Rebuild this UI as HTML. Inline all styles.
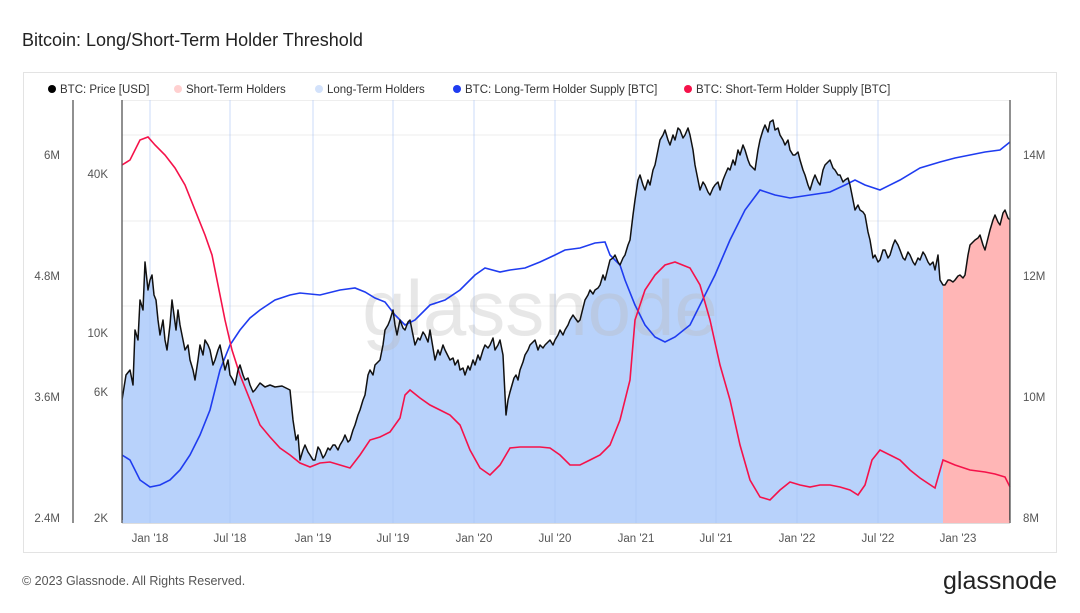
<!DOCTYPE html>
<html><head><meta charset="utf-8"><style>
body{margin:0;background:#fff;font-family:"Liberation Sans",sans-serif;}
</style></head><body>
<svg width="1080" height="608" xmlns="http://www.w3.org/2000/svg" font-family="Liberation Sans, sans-serif">
<rect width="1080" height="608" fill="#fff"/>
<text x="22" y="46" font-size="18" fill="#222">Bitcoin: Long/Short-Term Holder Threshold</text>
<rect x="23.5" y="72.5" width="1033" height="480" fill="#fff" stroke="#e3e3e3"/>
<g font-size="11.5" fill="#333">
<circle cx="52" cy="89" r="4" fill="#000"/><text x="60" y="93">BTC: Price [USD]</text>
<circle cx="178" cy="89" r="4" fill="#ffd0d0"/><text x="186" y="93">Short-Term Holders</text>
<circle cx="319" cy="89" r="4" fill="#d3e2fb"/><text x="327" y="93">Long-Term Holders</text>
<circle cx="457" cy="89" r="4" fill="#1f3cf0"/><text x="465" y="93">BTC: Long-Term Holder Supply [BTC]</text>
<circle cx="688" cy="89" r="4" fill="#f5124a"/><text x="696" y="93">BTC: Short-Term Holder Supply [BTC]</text>
</g>
<line x1="122" y1="100.5" x2="1010" y2="100.5" stroke="#eee"/>
<g stroke="#ececec"><line x1="122" y1="135" x2="1010" y2="135"/><line x1="122" y1="221" x2="1010" y2="221"/><line x1="122" y1="306" x2="1010" y2="306"/><line x1="122" y1="392" x2="1010" y2="392"/><line x1="122" y1="477" x2="1010" y2="477"/></g>
<defs>
<clipPath id="cb"><rect x="122" y="90" width="821" height="433"/></clipPath>
<clipPath id="cr"><rect x="943" y="90" width="67" height="433"/></clipPath>
<clipPath id="cl"><rect x="122" y="90" width="888" height="430"/></clipPath>
<polygon id="pp" points="122,523 122,400 126,375 130,370 133,385 135,330 138,340 140,300 143,310 145,262 148,290 150,280 152,275 154,295 156,300 158,320 160,335 163,320 165,340 167,350 170,325 172,300 174,315 176,330 178,310 180,325 183,340 185,350 188,345 190,360 193,370 195,380 198,360 200,345 203,355 205,340 208,345 210,350 213,365 215,360 218,350 220,345 223,360 225,370 228,360 230,375 233,380 235,385 238,370 240,365 243,375 245,380 248,378 250,385 253,392 255,390 260,383 265,387 270,385 275,387 282,386 290,390 293,420 296,440 298,435 300,460 303,450 305,445 308,452 310,455 313,460 315,460 318,447 320,450 323,458 325,455 328,448 330,450 333,445 335,445 338,450 340,445 343,440 345,435 348,442 350,440 353,430 355,425 358,415 360,410 363,400 365,395 368,375 370,370 373,375 375,365 378,362 380,360 383,345 385,330 388,325 390,320 393,310 395,325 397,335 400,320 403,328 405,330 408,322 410,320 413,335 415,345 418,338 420,340 423,332 425,335 428,342 430,330 433,348 435,360 438,350 440,355 443,345 445,350 448,356 450,360 453,358 455,365 458,360 460,370 463,368 465,375 468,366 470,370 473,360 475,365 478,355 480,360 483,350 485,345 488,348 490,345 493,338 495,350 498,345 500,340 503,355 506,415 508,400 510,392 512,385 514,378 516,375 518,380 520,370 523,362 525,355 528,350 530,345 533,342 535,340 538,350 540,345 543,348 545,345 548,342 550,340 553,345 555,340 558,335 560,330 563,335 565,330 568,325 570,320 573,315 575,318 578,322 580,320 583,308 585,300 588,295 590,290 593,294 595,290 598,288 600,285 603,275 605,280 608,268 610,260 613,258 615,255 618,262 620,265 623,258 625,255 628,245 630,240 633,215 635,200 638,180 640,175 643,185 645,190 648,180 650,185 653,170 655,165 658,150 660,140 663,135 665,130 668,140 670,145 673,135 675,140 678,128 680,130 683,138 685,135 688,128 690,135 693,150 695,165 698,180 700,190 703,182 705,185 708,192 710,195 713,188 715,185 718,182 720,190 723,180 725,175 728,168 730,170 733,160 735,165 738,150 740,155 743,145 745,150 748,160 750,165 753,168 755,170 758,150 760,140 763,130 765,125 768,132 770,122 773,120 775,130 778,128 780,135 783,140 785,145 788,140 790,150 793,155 795,155 798,152 800,160 803,170 805,175 808,185 810,190 813,180 815,175 818,182 820,185 823,170 825,165 828,162 830,160 833,168 835,170 838,175 840,175 843,182 845,180 848,178 850,185 853,200 855,210 858,205 860,210 863,212 865,215 868,232 870,240 873,258 875,255 878,262 880,260 883,250 885,250 888,258 890,255 893,245 895,240 898,245 900,250 903,258 905,260 908,252 910,255 913,262 915,265 918,258 920,260 923,252 925,255 928,262 930,265 933,262 935,270 938,255 940,280 943,285 945,285 948,280 950,280 953,282 955,280 958,276 960,275 963,278 965,275 968,255 970,245 973,242 975,240 978,238 980,235 983,245 985,250 988,238 990,230 993,220 995,215 998,222 1000,225 1003,213 1005,210 1008,218 1010,220 1010,523"/>
</defs>
<use href="#pp" fill="#b8d2fb" clip-path="url(#cb)"/>
<use href="#pp" fill="#ffb6b6" clip-path="url(#cr)"/>
<g stroke="#a9c4f5" stroke-width="1" opacity="0.6" clip-path="url(#cb)">
<line x1="150" y1="100" x2="150" y2="523"/><line x1="230" y1="100" x2="230" y2="523"/><line x1="313" y1="100" x2="313" y2="523"/><line x1="393" y1="100" x2="393" y2="523"/><line x1="474" y1="100" x2="474" y2="523"/><line x1="555" y1="100" x2="555" y2="523"/><line x1="636" y1="100" x2="636" y2="523"/><line x1="716" y1="100" x2="716" y2="523"/><line x1="797" y1="100" x2="797" y2="523"/><line x1="878" y1="100" x2="878" y2="523"/>
</g>
<text x="540" y="335" font-size="78" fill="#bbbbbb" fill-opacity="0.35" text-anchor="middle">glassnode</text>
<polyline fill="none" stroke="#1f3cf0" stroke-width="1.6" points="122,455 130,460 140,480 150,487 160,485 170,480 180,470 190,455 200,435 210,410 220,370 230,345 240,330 250,318 260,310 275,300 290,295 300,293 320,295 340,290 355,288 365,292 375,298 385,302 395,315 405,325 415,320 430,305 445,300 460,290 475,275 485,268 500,272 510,270 525,268 540,262 555,255 565,250 580,248 595,243 605,242 610,255 620,265 625,280 635,305 645,325 655,337 665,342 675,337 690,325 705,295 715,275 730,240 745,210 760,190 775,195 790,198 810,195 830,192 845,185 855,180 865,185 880,190 900,180 920,168 940,162 955,158 970,155 985,152 1000,150 1010,142"/>
<polyline fill="none" stroke="#f5124a" stroke-width="1.6" points="122,165 130,160 140,140 148,137 155,145 165,155 175,168 185,185 195,210 205,235 212,255 218,285 225,320 232,350 240,375 250,400 260,425 270,437 280,448 290,455 300,463 310,467 320,463 330,462 340,465 350,468 360,455 370,440 380,437 390,432 400,418 405,395 410,390 420,398 430,405 440,410 450,415 460,425 470,450 480,468 490,475 500,465 510,448 520,447 530,447 540,447 550,448 560,455 570,465 580,465 590,460 600,455 610,445 620,420 630,380 635,320 645,290 655,275 665,265 675,262 690,268 700,285 710,320 720,365 730,400 740,445 750,480 760,497 770,500 780,490 790,482 800,485 810,487 820,485 830,485 840,487 850,490 858,495 865,485 872,460 880,450 890,455 900,460 910,470 920,478 935,488 943,460 955,465 970,470 985,472 995,474 1005,477 1010,487"/>
<use href="#pp" fill="none" stroke="#111" stroke-width="1.5" stroke-linejoin="round" clip-path="url(#cl)"/>
<g stroke="#555" stroke-width="1.3"><line x1="73" y1="100" x2="73" y2="523"/><line x1="122" y1="100" x2="122" y2="523"/><line x1="1010" y1="100" x2="1010" y2="523"/></g>
<line x1="122" y1="523.5" x2="1010" y2="523.5" stroke="#ddd"/>
<g font-size="11.5" fill="#555">
<text x="60" y="159" text-anchor="end">6M</text><text x="60" y="280" text-anchor="end">4.8M</text><text x="60" y="401" text-anchor="end">3.6M</text><text x="60" y="522" text-anchor="end">2.4M</text>
<text x="108" y="178" text-anchor="end">40K</text><text x="108" y="337" text-anchor="end">10K</text><text x="108" y="396" text-anchor="end">6K</text><text x="108" y="522" text-anchor="end">2K</text>
<text x="1023" y="159">14M</text><text x="1023" y="280">12M</text><text x="1023" y="401">10M</text><text x="1023" y="522">8M</text>
<g text-anchor="middle"><text x="150" y="542">Jan '18</text><text x="230" y="542">Jul '18</text><text x="313" y="542">Jan '19</text><text x="393" y="542">Jul '19</text><text x="474" y="542">Jan '20</text><text x="555" y="542">Jul '20</text><text x="636" y="542">Jan '21</text><text x="716" y="542">Jul '21</text><text x="797" y="542">Jan '22</text><text x="878" y="542">Jul '22</text><text x="958" y="542">Jan '23</text></g>
</g>
<text x="22" y="585" font-size="12.5" fill="#555">© 2023 Glassnode. All Rights Reserved.</text>
<text x="1057" y="589" font-size="25" fill="#222" text-anchor="end">glassnode</text>
</svg>
</body></html>
